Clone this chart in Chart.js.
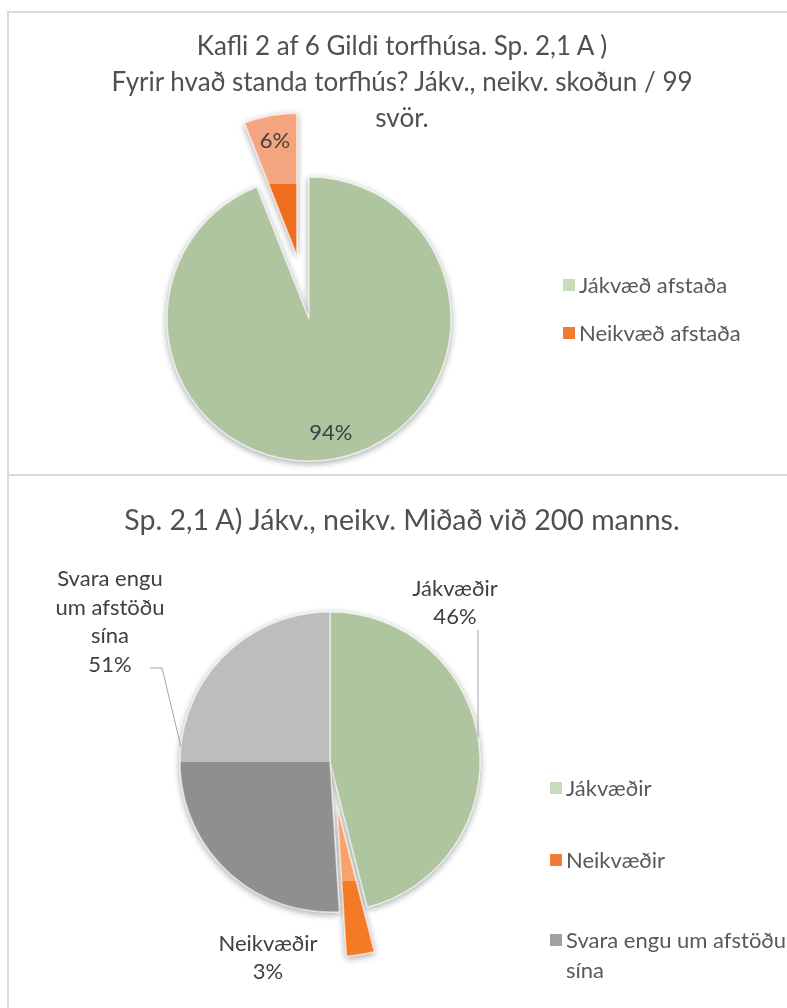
<!DOCTYPE html>
<html lang="is">
<head>
<meta charset="utf-8">
<title>Gildi torfhúsa</title>
<script src="https://cdn.jsdelivr.net/npm/chart.js@4.4.1/dist/chart.umd.min.js"></script>
<style>
  html, body { margin: 0; padding: 0; background: #fff; }
  body { width: 787px; height: 1008px; overflow: hidden; position: relative; font-family: Lato, "Open Sans", sans-serif; }
  .frame { position: absolute; left: 7px; top: 11px; width: 820px; height: 1020px; border-left: 2px solid #d9d9d9; border-top: 2px solid #d9d9d9; }
  .divider { position: absolute; left: 7px; top: 474px; width: 820px; height: 2px; background: #d9d9d9; }
  .panel { position: absolute; left: 0; width: 787px; }
  #panel1 { top: 0; height: 475px; }
  #panel2 { top: 476px; height: 532px; }
  canvas { position: absolute; left: 0; top: 0; }
  .title { position: absolute; left: 0; width: 804px; text-align: center; color: #505050; white-space: nowrap; }
  #title1 { top: 27px; font-size: 26px; line-height: 36px; }
  #title2 { top: 25px; font-size: 28.5px; line-height: 36px; }
  .legend { position: absolute; display: flex; flex-direction: column; color: #595959; font-size: 22px; line-height: 30px; }
  #legend1 { left: 563px; top: 270px; gap: 18px; }
  #legend2 { left: 550px; top: 297px; gap: 42px; }
  #legend2 .item:last-child { margin-top: 8px; }
  .legend .item { display: flex; align-items: flex-start; }
  .legend .box { width: 12px; height: 12px; margin: 9px 4px 0 0; flex: none; }
  .legend .txt { width: 230px; }
</style>
</head>
<body>
<div class="frame"></div>
<div class="divider"></div>

<div class="panel" id="panel1">
  <canvas id="pie1" width="787" height="475"></canvas>
  <div class="title" id="title1">Kafli 2 af 6 Gildi torfhúsa. Sp. 2,1 A )<br>Fyrir hvað standa torfhús? Jákv., neikv. skoðun / 99<br>svör.</div>
  <div class="legend" id="legend1"></div>
</div>

<div class="panel" id="panel2">
  <canvas id="pie2" width="787" height="532"></canvas>
  <div class="title" id="title2">Sp. 2,1 A) Jákv., neikv. Miðað við 200 manns.</div>
  <div class="legend" id="legend2"></div>
</div>

<script>
// data
const topLabels = ['Jákvæð afstaða', 'Neikvæð afstaða'];
const topValues = [94, 6];

const bottomLabels = ['Jákvæðir', 'Neikvæðir', 'Svara engu um afstöðu sína'];
const bottomValues = [46, 3, 51];

// colours (base, upper half, lower half of each slice)
const topColors = ['#AEC5A0', '#F28C4E'];
const topShadeUp = ['#AEC5A0', '#F4A47E'];
const topShadeDown = ['#AEC5A0', '#EE6D1F'];
const bottomColors = ['#AEC5A0', '#F27A2C', '#A6A6A6'];
const bottomShadeUp = ['#AEC5A0', '#F8A36B', '#BDBDBD'];
const bottomShadeDown = ['#AEC5A0', '#F47A26', '#8F8F8F'];
const legendBoxColors1 = ['#C9DDBB', '#F07B33'];
const legendBoxColors2 = ['#C9DDBB', '#F07B33', '#A0A0A0'];

const labelFont = '22px Lato, "Open Sans", sans-serif';

// fill a slice with a hard two-tone split at the middle of its height
function shadeFill(ctx, arc, up, down) {
  if (up === down) return up;
  let minY = arc.y, maxY = arc.y;
  for (let k = 0; k <= 32; k++) {
    const a = arc.startAngle + (arc.endAngle - arc.startAngle) * k / 32;
    const y = arc.y + Math.sin(a) * arc.outerRadius;
    minY = Math.min(minY, y);
    maxY = Math.max(maxY, y);
  }
  const g = ctx.createLinearGradient(0, minY, 0, maxY);
  g.addColorStop(0, up);
  g.addColorStop(0.5, up);
  g.addColorStop(0.5, down);
  g.addColorStop(1, down);
  return g;
}

function shiftOf(arc, d) {
  const mid = (arc.startAngle + arc.endAngle) / 2;
  return { x: Math.cos(mid) * d, y: Math.sin(mid) * d };
}

// draws exploded slices (same radius) with a soft shadow
function explodePie(explode, up, down) {
  return {
    id: 'explodePie',
    beforeDatasetDraw(chart, args) {
      const ctx = chart.ctx;
      const arcs = args.meta.data;
      const shifts = arcs.map((arc, i) => shiftOf(arc, explode[i] || 0));

      ctx.save();
      ctx.shadowColor = 'rgba(0,0,0,0.35)';
      ctx.shadowBlur = 7;
      ctx.shadowOffsetY = 2;
      arcs.forEach((arc, i) => {
        ctx.save();
        ctx.translate(shifts[i].x, shifts[i].y);
        arc.draw(ctx);
        ctx.restore();
      });
      ctx.restore();

      arcs.forEach((arc, i) => {
        ctx.save();
        ctx.translate(shifts[i].x, shifts[i].y);
        const saved = arc.options;
        arc.options = Object.assign({}, saved, {
          backgroundColor: shadeFill(ctx, arc, up[i], down[i])
        });
        arc.draw(ctx);
        arc.options = saved;
        ctx.restore();
      });
      return false;
    }
  };
}

function wrapWords(ctx, text, maxWidth) {
  const words = text.split(' ');
  const lines = [];
  let line = '';
  words.forEach(w => {
    const test = line ? line + ' ' + w : w;
    if (line && ctx.measureText(test).width > maxWidth) {
      lines.push(line);
      line = w;
    } else {
      line = test;
    }
  });
  if (line) lines.push(line);
  return lines;
}

// percentage labels (inside) or category + percentage with leader lines (outside)
function sliceLabels(cfg) {
  return {
    id: 'sliceLabels',
    afterDatasetsDraw(chart) {
      const ctx = chart.ctx;
      const meta = chart.getDatasetMeta(0);
      const values = chart.data.datasets[0].data;
      const total = values.reduce((a, b) => a + b, 0);

      ctx.save();
      ctx.font = labelFont;
      ctx.fillStyle = '#404040';
      ctx.textAlign = 'center';
      ctx.textBaseline = 'middle';

      meta.data.forEach((arc, i) => {
        const pct = Math.round(values[i] / total * 100) + '%';
        const R = arc.outerRadius;
        if (cfg.mode === 'inside') {
          const s = shiftOf(arc, cfg.explode[i] || 0);
          const mid = (arc.startAngle + arc.endAngle) / 2;
          ctx.fillText(pct, arc.x + s.x + Math.cos(mid) * R * cfg.inside,
                            arc.y + s.y + Math.sin(mid) * R * cfg.inside);
          return;
        }
        const lines = wrapWords(ctx, chart.data.labels[i], cfg.maxWidth).concat(pct);
        const p = cfg.place[i];
        const cx = arc.x + p[0] * R;
        const cy = arc.y + p[1] * R;
        const y0 = cy - (lines.length - 1) * cfg.lineHeight / 2;
        lines.forEach((ln, k) => ctx.fillText(ln, cx, y0 + k * cfg.lineHeight));

        const lead = cfg.leaders[i];
        if (lead) {
          const a = (lead.edgeDeg - 90) * Math.PI / 180;
          ctx.beginPath();
          ctx.strokeStyle = '#A6A6A6';
          ctx.lineWidth = 1;
          lead.path.forEach((pt, k) => {
            const x = arc.x + pt[0] * R, y = arc.y + pt[1] * R;
            if (k === 0) ctx.moveTo(x, y); else ctx.lineTo(x, y);
          });
          ctx.lineTo(arc.x + Math.cos(a) * R, arc.y + Math.sin(a) * R);
          ctx.stroke();
        }
      });
      ctx.restore();
    }
  };
}

function buildLegend(chart, el, boxColors) {
  el.innerHTML = '';
  chart.data.labels.forEach((label, i) => {
    const item = document.createElement('div');
    item.className = 'item';
    const box = document.createElement('span');
    box.className = 'box';
    box.style.background = boxColors[i];
    const txt = document.createElement('span');
    txt.className = 'txt';
    txt.textContent = label;
    item.appendChild(box);
    item.appendChild(txt);
    el.appendChild(item);
  });
}

const explode1 = [0, 65];
const explode2 = [0, 45, 0];

const pie1 = new Chart(document.getElementById('pie1'), {
  type: 'pie',
  data: {
    labels: topLabels,
    datasets: [{
      data: topValues,
      backgroundColor: topColors,
      borderColor: 'rgba(255,255,255,0.55)',
      borderWidth: 1.5,
      radius: 142
    }]
  },
  options: {
    responsive: false,
    animation: false,
    events: [],
    layout: { padding: { left: 159, right: 328, top: 169, bottom: 6 } },
    plugins: { legend: { display: false }, tooltip: { enabled: false } }
  },
  plugins: [
    explodePie(explode1, topShadeUp, topShadeDown),
    sliceLabels({ mode: 'inside', inside: 0.82, explode: explode1 })
  ]
});

const pie2 = new Chart(document.getElementById('pie2'), {
  type: 'pie',
  data: {
    labels: bottomLabels,
    datasets: [{
      data: bottomValues,
      backgroundColor: bottomColors,
      borderColor: 'rgba(255,255,255,0.55)',
      borderWidth: 1.5,
      radius: 150
    }]
  },
  options: {
    responsive: false,
    animation: false,
    events: [],
    layout: { padding: { left: 170, right: 297, top: 126, bottom: 86 } },
    plugins: { legend: { display: false }, tooltip: { enabled: false } }
  },
  plugins: [
    explodePie(explode2, bottomShadeUp, bottomShadeDown),
    sliceLabels({
      mode: 'outside',
      lineHeight: 28.5,
      maxWidth: 118,
      place: [[0.833, -1.06], [-0.413, 1.307], [-1.467, -0.933]],
      leaders: [
        { path: [[0.987, -0.88]], edgeDeg: 80.6 },
        null,
        { path: [[-1.2, -0.627], [-1.12, -0.627]], edgeDeg: 276 }
      ]
    })
  ]
});

buildLegend(pie1, document.getElementById('legend1'), legendBoxColors1);
buildLegend(pie2, document.getElementById('legend2'), legendBoxColors2);
</script>
</body>
</html>
